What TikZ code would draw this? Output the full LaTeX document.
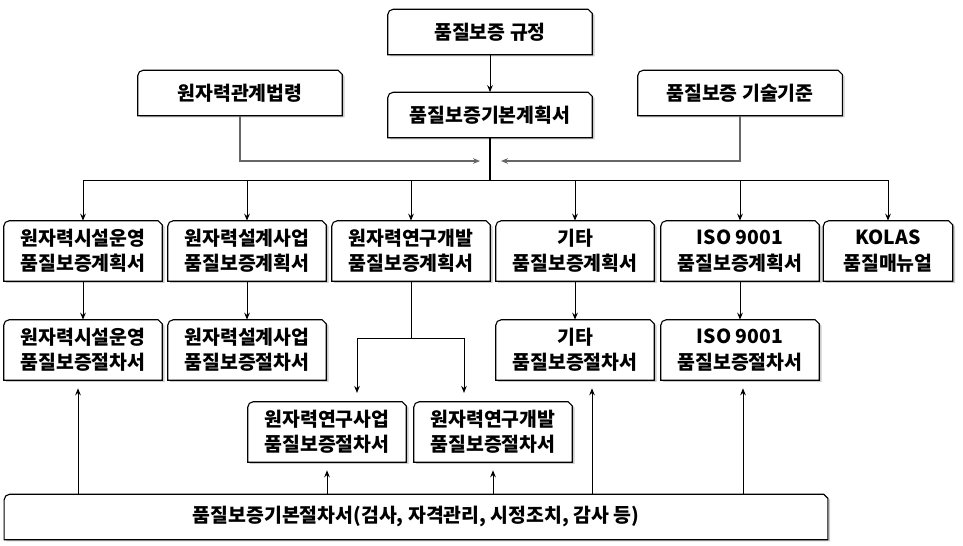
\documentclass[tikz,border=0pt]{standalone}
\usepackage{fontspec}
\setmainfont{Noto Sans CJK KR}
\usetikzlibrary{arrows.meta,positioning,calc,backgrounds,shadows}

\tikzset{
  qa/.style={minimum width=3.95cm, minimum height=1.5cm, inner sep=0pt, align=center,
    font=\fontsize{13.8}{18}\selectfont\bfseries},
  qawide/.style={qa, minimum width=5.1cm, minimum height=1.125cm},
  qaframe/.style={draw=black, line width=0.8pt, fill=white,
    drop shadow={shadow xshift=1.6pt, shadow yshift=-1.2pt, opacity=.4}},
  link/.style={line width=0.7pt},
  feed/.style={line width=1pt, draw=black!60},
}

\begin{document}
\begin{tikzpicture}[x=0.025cm, y=-0.025cm, >={Stealth[length=5pt,width=4pt]}]
  \useasboundingbox (0,0) rectangle (963,546);

  %top boxes
  \node[qawide] (rule) at (490,32)  {품질보증 규정};
  \node[qawide] (plan) at (490,115) {품질보증기본계획서};
  \node[qawide] (law)  at (240,93)  {원자력관계법령};
  \node[qawide] (std)  at (740,93)  {품질보증 기술기준};

  %quality plans
  \node[qa] (r1) at (83,251)  {원자력시설운영\\품질보증계획서};
  \node[qa] (r2) at (247,251) {원자력설계사업\\품질보증계획서};
  \node[qa] (r3) at (411,251) {원자력연구개발\\품질보증계획서};
  \node[qa] (r4) at (575,251) {기타\\품질보증계획서};
  \node[qa] (r5) at (740,251) {ISO 9001\\품질보증계획서};
  \node[qa, minimum width=3.225cm] (r6) at (888,251) {KOLAS\\품질매뉴얼};

  %procedures
  \node[qa] (p1)  at (83,350)  {원자력시설운영\\품질보증절차서};
  \node[qa] (p2)  at (247,350) {원자력설계사업\\품질보증절차서};
  \node[qa] (p4)  at (575,350) {기타\\품질보증절차서};
  \node[qa] (p5)  at (740,350) {ISO 9001\\품질보증절차서};
  \node[qa] (p3a) at (327,432) {원자력연구사업\\품질보증절차서};
  \node[qa] (p3b) at (493,432) {원자력연구개발\\품질보증절차서};
  \node[qa, minimum width=20.575cm, minimum height=1.125cm] (base) at (416,517)
    {품질보증기본절차서(검사, 자격관리, 시정조치, 감사 등)};

  %frames
  \begin{scope}[on background layer]
    \foreach \n in {rule,plan,law,std,r1,r2,r3,r4,r5,r6,p1,p2,p4,p5,p3a,p3b,base}
      \path[qaframe] (\n.south west) -- ([yshift=-4pt]\n.north west)
        arc[start angle=180, end angle=90, radius=4pt]
        -- ([xshift=-3pt]\n.north east) -- ([yshift=-3pt]\n.north east)
        -- (\n.south east) -- cycle;
  \end{scope}

  %coordinates
  \coordinate (hub)   at (490,180);
  \coordinate (lawin) at (480,161);
  \coordinate (stdin) at (501,161);
  \coordinate (split) at (411,338);

  %connectors
  \draw[->, link] (rule) -- (plan);
  \draw[line width=1.1pt] (plan) -- (hub);
  \draw[->, feed] (law) |- (lawin);
  \draw[->, feed] (std) |- (stdin);
  \foreach \n in {r1,r2,r3,r4,r5,r6}
    \draw[->, link] (hub) -| (\n.north);
  \foreach \a/\b in {r1/p1, r2/p2, r4/p4, r5/p5}
    \draw[->, link] (\a) -- (\b);
  \draw[link] (r3) -- (split);
  \draw[->, link, shorten >=0.22cm] (split) -| ($(p3a.north)+(30,0)$);
  \draw[->, link, shorten >=0.22cm] (split) -| ($(p3b.north)+(-29,0)$);
  \foreach \n/\dx in {p1/-5, p3a/0, p3b/0, p4/17, p5/3} {
    \path ($(\n.south)+(\dx,0)$) coordinate (tip);
    \draw[->, link, shorten >=0.2cm] (base.north -| tip) -- (tip);
  }
\end{tikzpicture}
\end{document}
